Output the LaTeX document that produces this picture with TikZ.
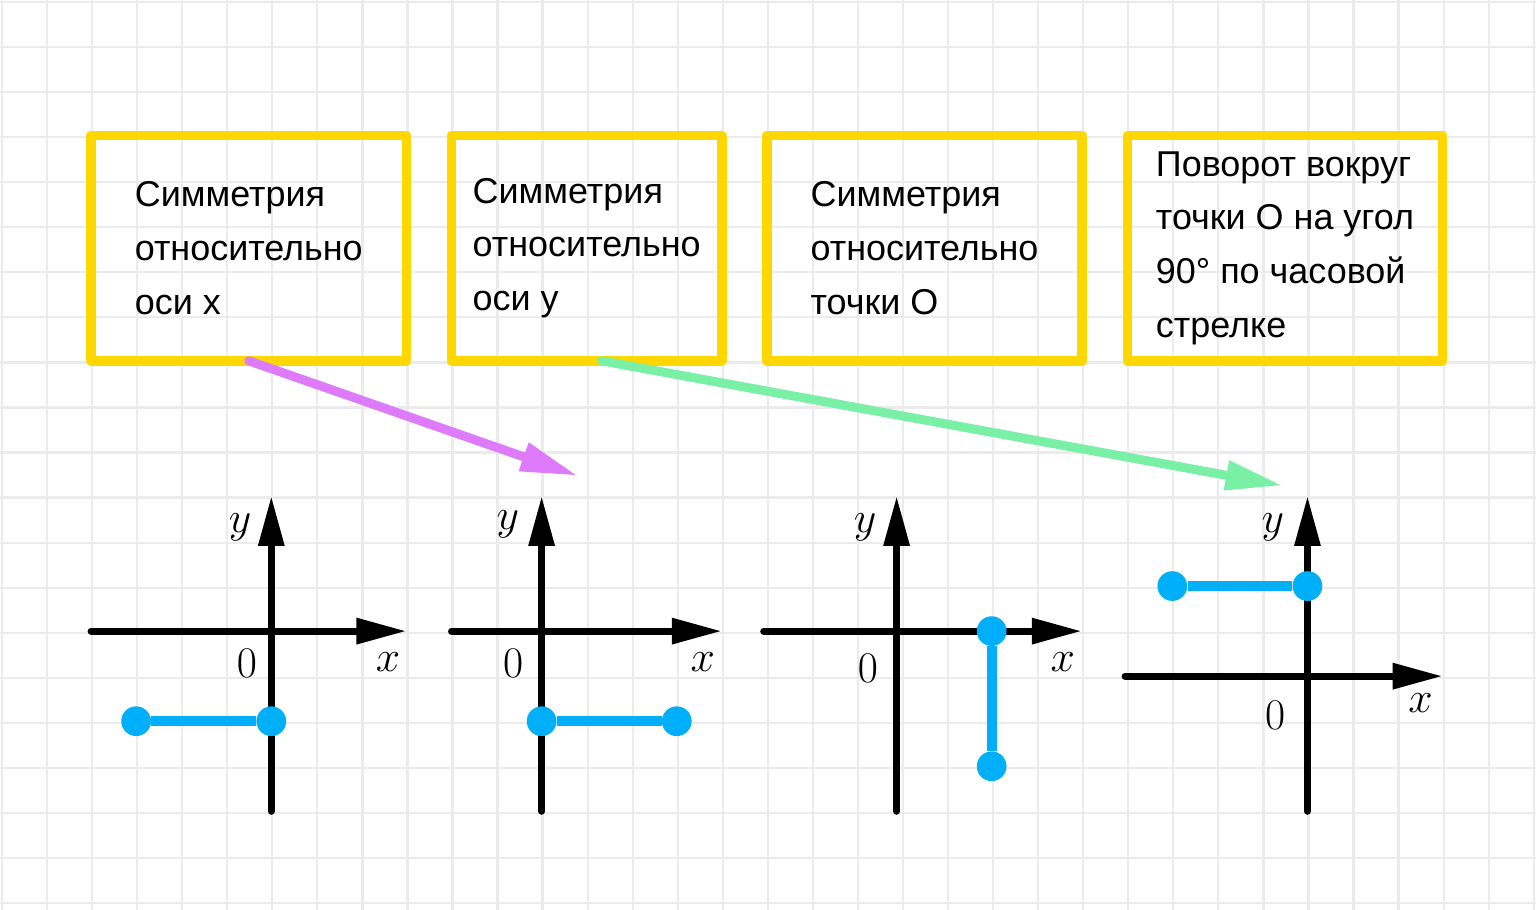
\documentclass[tikz,border=0pt]{standalone}
\usepackage{fontspec}
\setmainfont{Liberation Sans}
\usetikzlibrary{arrows.meta,positioning}
\definecolor{boxyellow}{RGB}{255,215,0}
\definecolor{segblue}{RGB}{0,175,250}
\definecolor{arrpink}{RGB}{221,123,250}
\definecolor{arrgreen}{RGB}{122,240,166}
\definecolor{gridgray}{RGB}{235,235,235}
\newcommand{\axtext}[1]{\scalebox{1.11}{$#1$}}
\begin{document}
\begin{tikzpicture}[x=1cm,y=-1cm,
  gridline/.style={draw=gridgray,line width=1.4pt},
  infobox/.style={draw=boxyellow,line width=6pt,line join=round,outer sep=0pt,
    minimum height=5cm,align=left,font=\fontsize{22.7}{34}\selectfont},
  axis/.style={line width=4.4pt,line cap=round,-{Triangle[length=1.11cm,width=0.55cm]}},
  axlabel/.style={inner sep=0pt,font=\fontsize{24.88}{30}\selectfont},
  dot/.style={circle,fill=segblue,inner sep=0pt,minimum size=0.66cm},
  seg/.style={segblue,line width=6.3pt},
  bigarrow/.style={line width=5.7pt,line cap=round,-{Triangle[length=1.27cm,width=0.62cm]}}
]
\useasboundingbox (-0.022,-0.009) rectangle (34.073,20.169);
\fill[white] (-0.022,-0.009) rectangle (34.073,20.169);
\clip (-0.022,-0.009) rectangle (34.073,20.169);
\draw[gridline,shift={(0.022,0.036)}] (-1,-1) grid (35,21);

% the four boxes
\node[infobox,minimum width=7cm] (b1) at (5.5,5.5) {Симметрия\\относительно\\оси x};
\node[infobox,minimum width=6cm] (b2) at (13,5.5) {Симметрия\\относительно\\оси y};
\node[infobox,minimum width=7cm] (b3) at (20.5,5.5) {Симметрия\\относительно\\точки О};
\node[infobox,minimum width=7cm] (b4) at (28.5,5.5) {Поворот вокруг\\точки О на угол\\90° по часовой\\стрелке};

% plot 1
\begin{scope}[shift={(6,14)}]
\draw[axis] (-4,0) -- (3,0);
\draw[axis] (0,4) -- (0,-3);
\node[axlabel] (y1) at (-0.69,-2.31) {\axtext{y}};
\node[axlabel] (n1) at (-0.54,0.71) {\axtext{0}};
\node[axlabel] (x1) at (2.59,0.69) {\axtext{x}};
\node[dot] (p1) at (-3,2) {};
\node[dot] (q1) at (0,2) {};
\draw[seg] (p1) -- (q1);
\end{scope}

% plot 2
\begin{scope}[shift={(12,14)}]
\draw[axis] (-2,0) -- (4,0);
\draw[axis] (0,4) -- (0,-3);
\node[axlabel] (y2) at (-0.75,-2.36) {\axtext{y}};
\node[axlabel] (n2) at (-0.63,0.71) {\axtext{0}};
\node[axlabel] (x2) at (3.58,0.69) {\axtext{x}};
\node[dot] (p2) at (0,2) {};
\node[dot] (q2) at (3,2) {};
\draw[seg] (p2) -- (q2);
\end{scope}

% plot 3
\begin{scope}[shift={(19.88,14)}]
\draw[axis] (-2.95,0) -- (4.11,0);
\draw[axis] (0,4) -- (0,-3);
\node[axlabel] (y3) at (-0.70,-2.31) {\axtext{y}};
\node[axlabel] (n3) at (-0.64,0.82) {\axtext{0}};
\node[axlabel] (x3) at (3.69,0.69) {\axtext{x}};
\node[dot] (p3) at (2.11,0) {};
\node[dot] (q3) at (2.11,3) {};
\draw[seg] (p3) -- (q3);
\end{scope}

% plot 4
\begin{scope}[shift={(29,15)}]
\draw[axis] (-4.05,0) -- (3,0);
\draw[axis] (0,3) -- (0,-4);
\node[axlabel] (y4) at (-0.77,-3.31) {\axtext{y}};
\node[axlabel] (n4) at (-0.72,0.86) {\axtext{0}};
\node[axlabel] (x4) at (2.51,0.59) {\axtext{x}};
\node[dot] (p4) at (-3,-2) {};
\node[dot] (q4) at (0,-2) {};
\draw[seg] (p4) -- (q4);
\end{scope}

% arrows from boxes to plots
\coordinate (t1) at (12.80,10.55);
\coordinate (g0) at ([xshift=0.33cm]b2.south);
\coordinate (t2) at (28.45,10.77);
\draw[bigarrow,arrpink] (b1.south) -- (t1);
\draw[bigarrow,arrgreen] (g0) -- (t2);
\end{tikzpicture}
\end{document}
